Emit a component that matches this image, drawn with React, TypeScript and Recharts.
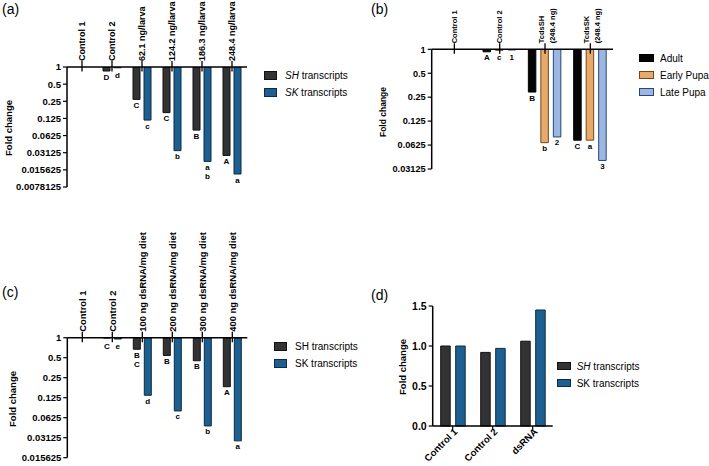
import React from "react";
import { BarChart, Bar, XAxis, YAxis, LabelList, Legend } from "recharts";

const FONT = "Arial, 'Liberation Sans', Helvetica, sans-serif";

// (a) injected dsRNA, per larva
const doseCats = ["Control 1", "Control 2", "62.1 ng/larva", "124.2 ng/larva", "186.3 ng/larva", "248.4 ng/larva"];
const doseSH = [1, 0.85, 0.27, 0.158, 0.078, 0.028];
const doseSK = [1, 0.97, 0.117, 0.034, 0.022, 0.0132];
const doseSHLetters = ["", "D", "C", "C", "B", "A"];
const doseSKLetters = ["", "d", "c", "b", "a\nb", "a"];
const ticksA = [1, 0.5, 0.25, 0.125, 0.0625, 0.03125, 0.015625, 0.0078125];

// (b) developmental stages
const stageCats = ["Control 1", "Control 2", "TcdsSH\n(248.4 ng)", "TcdsSK\n(248.4 ng)"];
const adult = [1, 0.93, 0.29, 0.072];
const earlyPupa = [1, 0.97, 0.067, 0.072];
const latePupa = [1, 0.98, 0.079, 0.04];
const adultLetters = ["", "A", "B", "C"];
const earlyLetters = ["", "c", "b", "a"];
const lateLetters = ["", "1", "2", "3"];
const ticksB = [1, 0.5, 0.25, 0.125, 0.0625, 0.03125];

// (c) dsRNA in diet
const dietCats = [
  "Control 1",
  "Control 2",
  "100 ng dsRNA/mg diet",
  "200 ng dsRNA/mg diet",
  "300 ng dsRNA/mg diet",
  "400 ng dsRNA/mg diet",
];
const dietSH = [1, 0.99, 0.67, 0.54, 0.45, 0.183];
const dietSK = [1, 0.955, 0.136, 0.079, 0.047, 0.028];
const dietSHLetters = ["", "C", "B\nC", "B", "B", "A"];
const dietSKLetters = ["", "e", "d", "c", "b", "a"];
const ticksC = [1, 0.5, 0.25, 0.125, 0.0625, 0.03125, 0.015625];

// (d) controls vs dsRNA
const ctrlCats = ["Control 1", "Control 2", "dsRNA"];
const ctrlSH = [1.0, 0.92, 1.06];
const ctrlSK = [1.0, 0.97, 1.45];
const ticksD = [0, 0.5, 1, 1.5];

const SH = { fill: "#333333", stroke: "#111111" };
const SK = { fill: "#1d5f8e", stroke: "#0d2b44" };
const ADULT = { fill: "#050505", stroke: "#000000" };
const EARLY = { fill: "#e9a96a", stroke: "#6b4a22" };
const LATE = { fill: "#9cb8e2", stroke: "#27467a" };

type Series = { key: string; values: number[]; letters: string[]; fill: string; stroke: string };
type LegendItem = { it?: string; text: string; fill: string; stroke: string };

function TopTick(props: any) {
  const { x, y, payload, fs } = props;
  const lines = String(payload.value).split("\n");
  const offs = lines.length > 1 ? [-3.5, 7.3] : [0];
  return (
    <g>
      <line x1={x} x2={x} y1={y - 6} y2={y + 4.5} stroke="#000" strokeWidth={1.3} />
      {lines.map((t, i) => (
        <text
          key={i}
          x={x + offs[i]}
          y={y - 6}
          dy="0.35em"
          transform={`rotate(-90 ${x + offs[i]} ${y - 6})`}
          textAnchor="start"
          fontSize={fs}
          fontWeight="bold"
          fontFamily={FONT}
          fill="#000"
        >
          {t}
        </text>
      ))}
    </g>
  );
}

function SlantTick(props: any) {
  const { x, y, payload } = props;
  return (
    <text
      x={x + 3}
      y={y - 2}
      transform={`rotate(-45 ${x + 3} ${y - 2})`}
      textAnchor="end"
      dy="0.35em"
      fontSize={9.6}
      fontWeight="bold"
      fontFamily={FONT}
      fill="#000"
    >
      {payload.value}
    </text>
  );
}

const letterLabel = (p: any) => {
  const txt = p.value;
  if (!txt) return null;
  const vb = p.viewBox ?? p;
  const cx = vb.x + vb.width / 2;
  const base = Math.max(vb.y + vb.height + 8.5, vb.y + 11);
  return (
    <text textAnchor="middle" fontSize={8} fontWeight="bold" fontFamily={FONT} fill="#000">
      {String(txt)
        .split("\n")
        .map((t, i) => (
          <tspan key={i} x={cx} y={base + i * 9.5}>
            {t}
          </tspan>
        ))}
    </text>
  );
};

function LegendBox({ items, sw, sh, gap }: { items: LegendItem[]; sw: number; sh: number; gap: number }) {
  return (
    <div style={{ fontFamily: FONT, fontSize: 10, color: "#000" }}>
      {items.map((d, i) => (
        <div key={i} style={{ display: "flex", alignItems: "center", height: 17, whiteSpace: "nowrap" }}>
          <span
            style={{
              display: "inline-block",
              width: sw,
              height: sh,
              boxSizing: "border-box",
              background: d.fill,
              border: `1.5px solid ${d.stroke}`,
              marginRight: gap,
            }}
          />
          <span>
            {d.it ? <i>{d.it}</i> : null}
            {d.text}
          </span>
        </div>
      ))}
    </div>
  );
}

function Titles({ tag, tagPos, foldPos, foldSize }: any) {
  return (
    <>
      <div style={{ position: "absolute", left: tagPos[0], top: tagPos[1], fontSize: 14, fontFamily: FONT, lineHeight: "16px" }}>
        {tag}
      </div>
      <div
        style={{
          position: "absolute",
          left: foldPos[0],
          top: foldPos[1],
          transform: "translate(-50%, -50%) rotate(-90deg)",
          fontSize: foldSize,
          fontWeight: "bold",
          fontFamily: FONT,
          whiteSpace: "nowrap",
          lineHeight: 1,
        }}
      >
        Fold change
      </div>
    </>
  );
}

function LogPanel(props: any) {
  const { pos, size, margin, yWidth, xHeight, cats, series, ticks, barSize, barGap, catFont, tickFont, legend, legendPos, legendSq, titles } = props;
  const rows = cats.map((name: string, i: number) => {
    const row: any = { name };
    series.forEach((s: Series) => {
      row[s.key] = s.values[i];
      row[s.key + "L"] = s.letters[i];
    });
    return row;
  });
  return (
    <div style={{ position: "absolute", left: pos[0], top: pos[1], width: size[0], height: size[1] }}>
      <BarChart width={size[0]} height={size[1]} data={rows} margin={margin} barSize={barSize} barGap={barGap}>
        <XAxis
          dataKey="name"
          orientation="top"
          height={xHeight}
          axisLine={{ stroke: "#000", strokeWidth: 1.5 }}
          tickLine={false}
          tickSize={0}
          tickMargin={0}
          interval={0}
          tick={<TopTick fs={catFont} />}
        />
        <YAxis
          type="number"
          scale="log"
          domain={[ticks[ticks.length - 1], 1]}
          allowDataOverflow
          ticks={ticks}
          interval={0}
          width={yWidth}
          axisLine={{ stroke: "#000", strokeWidth: 1.5 }}
          tickLine={{ stroke: "#000", strokeWidth: 1.2 }}
          tickSize={4}
          tickMargin={2}
          tick={{ fill: "#000", fontSize: tickFont, fontWeight: "bold", fontFamily: FONT }}
        />
        <Legend
          layout="vertical"
          align="center"
          verticalAlign="middle"
          wrapperStyle={{ left: legendPos[0], top: legendPos[1], width: "auto" }}
          content={() => <LegendBox items={legend} sw={legendSq[0]} sh={legendSq[1]} gap={legendSq[2]} />}
        />
        {series.map((s: Series) => (
          <Bar
            key={s.key}
            dataKey={(d: any) => [d[s.key], 1]}
            fill={s.fill}
            stroke={s.stroke}
            strokeWidth={1}
            isAnimationActive={false}
          >
            <LabelList dataKey={s.key + "L"} content={letterLabel} />
          </Bar>
        ))}
      </BarChart>
      <Titles {...titles} />
    </div>
  );
}

function ControlPanel() {
  const rows = ctrlCats.map((name, i) => ({ name, sh: ctrlSH[i], sk: ctrlSK[i] }));
  const legend: LegendItem[] = [
    { it: "SH", text: " transcripts", ...SH },
    { text: "SK transcripts", ...SK },
  ];
  return (
    <div style={{ position: "absolute", left: 360, top: 240, width: 349, height: 226 }}>
      <BarChart
        width={349}
        height={226}
        data={rows}
        margin={{ top: 66, left: 22.7, right: 156.3, bottom: 2 }}
        barSize={9.5}
        barGap={5.5}
      >
        <XAxis
          dataKey="name"
          height={38}
          axisLine={{ stroke: "#000", strokeWidth: 1.5 }}
          tickLine={{ stroke: "#000", strokeWidth: 1.2 }}
          tickSize={4}
          tickMargin={2}
          interval={0}
          tick={<SlantTick />}
        />
        <YAxis
          type="number"
          domain={[0, 1.5]}
          ticks={ticksD}
          interval={0}
          width={50}
          axisLine={{ stroke: "#000", strokeWidth: 1.5 }}
          tickLine={{ stroke: "#000", strokeWidth: 1.2 }}
          tickSize={4}
          tickMargin={2}
          tickFormatter={(v: number) => v.toFixed(1)}
          tick={{ fill: "#000", fontSize: 10.5, fontWeight: "bold", fontFamily: FONT }}
        />
        <Legend
          layout="vertical"
          align="center"
          verticalAlign="middle"
          wrapperStyle={{ left: 196.7, top: 117.5, width: "auto" }}
          content={() => <LegendBox items={legend} sw={14} sh={8.5} gap={6} />}
        />
        <Bar dataKey="sh" fill={SH.fill} stroke={SH.stroke} strokeWidth={1} isAnimationActive={false} />
        <Bar dataKey="sk" fill={SK.fill} stroke={SK.stroke} strokeWidth={1} isAnimationActive={false} />
      </BarChart>
      <Titles tag="(d)" tagPos={[11, 46.5]} foldPos={[43.3, 126.7]} foldSize={9.5} />
    </div>
  );
}

export default function App() {
  return (
    <div style={{ position: "absolute", left: 0, top: 0, width: 709, height: 466, background: "#fff", overflow: "hidden" }}>
      <style>{`.recharts-wrapper, .recharts-surface { overflow: visible !important; }`}</style>
      <LogPanel
        pos={[0, 0]}
        size={[360, 240]}
        margin={{ top: 7, left: 7, right: 113, bottom: 53 }}
        yWidth={60}
        xHeight={60}
        cats={doseCats}
        series={[
          { key: "sh", values: doseSH, letters: doseSHLetters, ...SH },
          { key: "sk", values: doseSK, letters: doseSKLetters, ...SK },
        ]}
        ticks={ticksA}
        barSize={7}
        barGap={4}
        catFont={9}
        tickFont={9.5}
        legend={[
          { it: "SH", text: " transcripts", ...SH },
          { it: "SK", text: " transcripts", ...SK },
        ]}
        legendPos={[264, 67]}
        legendSq={[13, 9, 8]}
        titles={{ tag: "(a)", tagPos: [2, 1], foldPos: [8.7, 127.5], foldSize: 9.5 }}
      />
      <LogPanel
        pos={[360, 0]}
        size={[349, 240]}
        margin={{ top: 4.3, left: 11.7, right: 96, bottom: 71 }}
        yWidth={60}
        xHeight={45}
        cats={stageCats}
        series={[
          { key: "ad", values: adult, letters: adultLetters, ...ADULT },
          { key: "ep", values: earlyPupa, letters: earlyLetters, ...EARLY },
          { key: "lp", values: latePupa, letters: lateLetters, ...LATE },
        ]}
        ticks={ticksB}
        barSize={7.5}
        barGap={5}
        catFont={7.5}
        tickFont={9.2}
        legend={[
          { text: "Adult", ...ADULT },
          { text: "Early Pupa", ...EARLY },
          { text: "Late Pupa", ...LATE },
        ]}
        legendPos={[279, 49.5]}
        legendSq={[15, 8.5, 6]}
        titles={{ tag: "(b)", tagPos: [11, 1], foldPos: [23, 112], foldSize: 8.5 }}
      />
      <LogPanel
        pos={[0, 240]}
        size={[360, 226]}
        margin={{ top: 7.7, left: 7.3, right: 112.7, bottom: 8.3 }}
        yWidth={60}
        xHeight={90}
        cats={dietCats}
        series={[
          { key: "sh", values: dietSH, letters: dietSHLetters, ...SH },
          { key: "sk", values: dietSK, letters: dietSKLetters, ...SK },
        ]}
        ticks={ticksC}
        barSize={7}
        barGap={4}
        catFont={9.4}
        tickFont={9.5}
        legend={[
          { text: "SH transcripts", ...SH },
          { text: "SK transcripts", ...SK },
        ]}
        legendPos={[274, 97.8]}
        legendSq={[13, 8.5, 8]}
        titles={{ tag: "(c)", tagPos: [2, 44], foldPos: [13, 158.5], foldSize: 9.5 }}
      />
      <ControlPanel />
    </div>
  );
}
